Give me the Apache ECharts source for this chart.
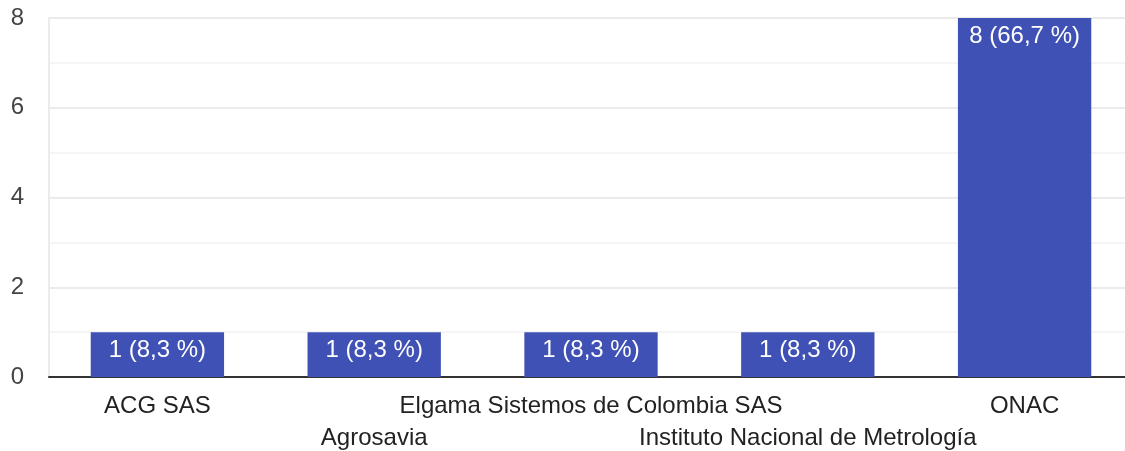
<!DOCTYPE html>
<html>
<head>
<meta charset="utf-8">
<script src="https://cdn.jsdelivr.net/npm/echarts@6/dist/echarts.min.js"></script>
<style>
  html, body { margin: 0; padding: 0; background: #fff; }
  #chart { width: 1125px; height: 451px; }
</style>
</head>
<body>
<div id="chart"></div>
<script>
const categories = ["ACG SAS", "Agrosavia", "Elgama Sistemos de Colombia SAS", "Instituto Nacional de Metrología", "ONAC"];
const counts = [1, 1, 1, 1, 8];
const percents = ["8,3", "8,3", "8,3", "8,3", "66,7"];
const yTicks = [0, 2, 4, 6, 8];

const chart = echarts.init(document.getElementById("chart"));
chart.setOption({
    animation: false,
    textStyle: { fontFamily: "Liberation Sans, Arial, sans-serif" },
    grid: { left: 49, top: 18, width: 1084, height: 359, outerBoundsMode: "none", containLabel: false },
    xAxis: {
        type: "category",
        data: categories,
        axisTick: { show: false },
        axisLine: { lineStyle: { color: "#333", width: 2 } },
        axisLabel: {
            interval: 0,
            color: "#222",
            fontSize: 24,
            lineHeight: 32,
            margin: 13,
            formatter: (v, i) => (i % 2 === 1 ? "\n" + v : v)
        }
    },
    yAxis: {
        type: "value",
        min: 0,
        max: 8,
        interval: 1,
        axisLine: { show: true, lineStyle: { color: "#ebebeb", width: 2 } },
        axisTick: { show: false },
        axisLabel: {
            color: "#444",
            fontSize: 24,
            margin: 25,
            padding: [6, 0, 0, 0],
            formatter: v => (yTicks.includes(v) ? String(v) : "")
        },
        splitLine: { lineStyle: { color: ["#ebebeb", "#f5f5f5"], width: 2 } }
    },
    series: [{
        type: "bar",
        data: counts,
        barWidth: "61.5%",
        itemStyle: { color: "#3f51b5" },
        label: {
            show: true,
            position: "insideTop",
            distance: 6,
            color: "#fff",
            fontSize: 24,
            formatter: p => p.value + " (" + percents[p.dataIndex] + " %)"
        }
    }]
});
</script>
</body>
</html>
